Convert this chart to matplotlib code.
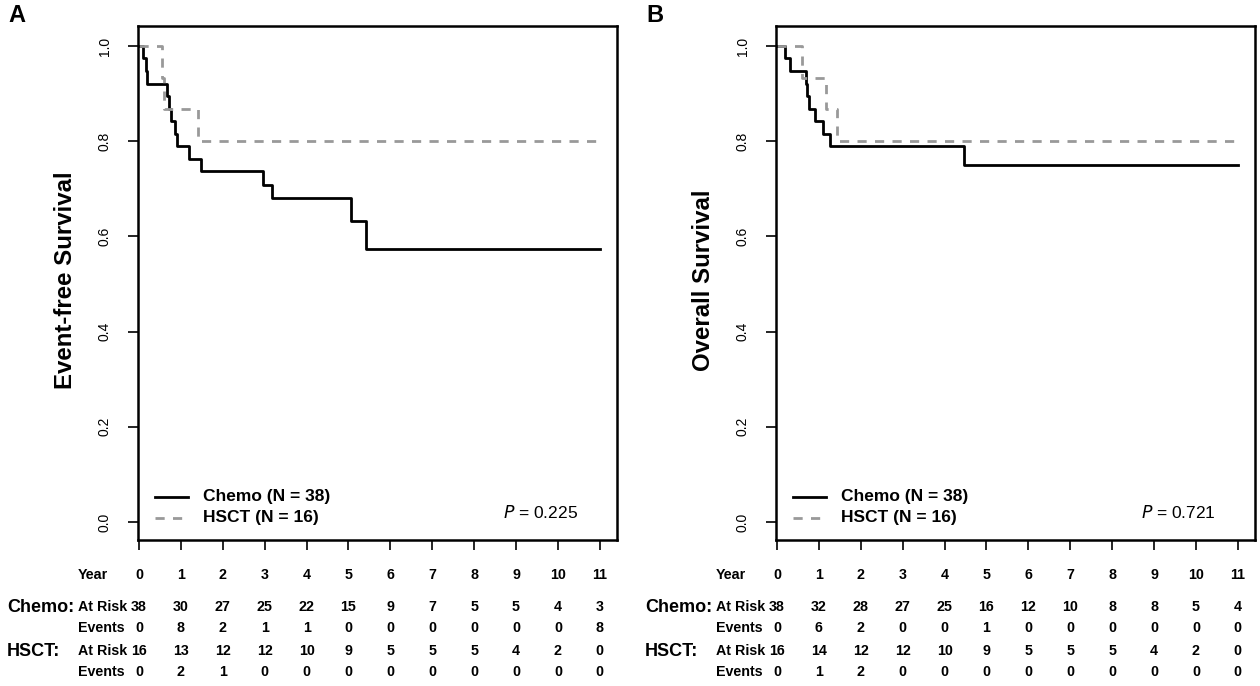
import matplotlib
matplotlib.use('Agg')
from matplotlib import pyplot as plt
from matplotlib import transforms

plt.rcParams['font.family'] = ['Liberation Sans', 'DejaVu Sans']

# ---- data ----
years = list(range(0, 12))

# event-free survival (panel A)
efs_chemo_t = [0, 0.10, 0.17, 0.20, 0.67, 0.71, 0.76, 0.86, 0.91, 1.20, 1.48, 2.97, 3.17, 5.06, 5.43, 11.0]
efs_chemo_s = [1.0, 0.974, 0.947, 0.921, 0.895, 0.868, 0.842, 0.816, 0.789, 0.763, 0.737, 0.708, 0.681, 0.632, 0.574, 0.574]
efs_hsct_t = [0, 0.55, 0.60, 1.42, 11.0]
efs_hsct_s = [1.0, 0.933, 0.867, 0.800, 0.800]

# overall survival (panel B)
os_chemo_t = [0, 0.19, 0.31, 0.69, 0.72, 0.77, 0.91, 1.10, 1.27, 4.47, 11.0]
os_chemo_s = [1.0, 0.974, 0.947, 0.921, 0.895, 0.868, 0.842, 0.816, 0.789, 0.750, 0.750]
os_hsct_t = [0, 0.60, 1.17, 1.44, 11.0]
os_hsct_s = [1.0, 0.933, 0.867, 0.800, 0.800]

# risk tables
efs_chemo_risk = [38, 30, 27, 25, 22, 15, 9, 7, 5, 5, 4, 3]
efs_chemo_events = [0, 8, 2, 1, 1, 0, 0, 0, 0, 0, 0, 8]
efs_hsct_risk = [16, 13, 12, 12, 10, 9, 5, 5, 5, 4, 2, 0]
efs_hsct_events = [0, 2, 1, 0, 0, 0, 0, 0, 0, 0, 0, 0]

os_chemo_risk = [38, 32, 28, 27, 25, 16, 12, 10, 8, 8, 5, 4]
os_chemo_events = [0, 6, 2, 0, 0, 1, 0, 0, 0, 0, 0, 0]
os_hsct_risk = [16, 14, 12, 12, 10, 9, 5, 5, 5, 4, 2, 0]
os_hsct_events = [0, 1, 2, 0, 0, 0, 0, 0, 0, 0, 0, 0]

yticks = [0.0, 0.2, 0.4, 0.6, 0.8, 1.0]

W, H = 1260, 686
fig = plt.figure(figsize=(W / 100, H / 100), dpi=100)


def fx(px):
    return px / W


def fy(py):
    return 1 - py / H


def panel(x0, letter, ylabel, chemo_t, chemo_s, hsct_t, hsct_s, pval, tables):
    ax = fig.add_axes([fx(x0), fy(540), fx(479), 514 / H])
    ax.step(chemo_t, chemo_s, where='post', color='black', lw=2.0)
    ax.step(hsct_t, hsct_s, where='post', color='#999999', lw=2.0, dashes=(3.3, 3))
    ax.set_xlim(-0.024, 11.41)
    ax.set_ylim(-0.038, 1.042)
    ax.set_xticks(years)
    ax.set_xticklabels([])
    ax.set_yticks(yticks)
    ax.set_yticklabels(['%.1f' % v for v in yticks], rotation=90, va='center', fontsize=10)
    ax.tick_params(direction='out', length=7, width=1.2, pad=12)
    for sp in ax.spines.values():
        sp.set_linewidth(1.8)

    # legend
    ax.plot([0.036, 0.104], [0.084, 0.084], transform=ax.transAxes, color='black', lw=2.0)
    ax.plot([0.036, 0.104], [0.043, 0.043], transform=ax.transAxes, color='#999999', lw=2.0, dashes=(3.3, 3))
    ax.text(0.136, 0.084, 'Chemo (N = 38)', transform=ax.transAxes, fontsize=12.5,
            fontweight='bold', va='center')
    ax.text(0.136, 0.043, 'HSCT (N = 16)', transform=ax.transAxes, fontsize=12.5,
            fontweight='bold', va='center')
    ax.text(0.762, 0.053, r'$\it{P}$ = ' + pval, transform=ax.transAxes, fontsize=12.5, va='center')

    fig.text(fx(x0 - 73), fy(280), ylabel, rotation=90, ha='center', va='center',
             fontsize=17.3, fontweight='bold')
    fig.text(fx(x0 - 130), fy(15), letter, ha='left', va='center', fontsize=17, fontweight='bold')

    # risk table
    tr = transforms.blended_transform_factory(ax.transData, fig.transFigure)
    rows = [('Year', years, 575)] + [(lab, vals, yy) for lab, vals, yy in tables]
    for lab, vals, yy in rows:
        fig.text(fx(x0 - 60), fy(yy), lab, ha='left', va='center', fontsize=10.3,
                 fontweight='bold')
        for yr, v in zip(years, vals):
            ax.text(yr, fy(yy), str(v), transform=tr, ha='center', va='center',
                    fontsize=10.3, fontweight='bold')
    fig.text(fx(x0 - 131), fy(607), 'Chemo:', ha='left', va='center', fontsize=13,
             fontweight='bold')
    fig.text(fx(x0 - 131), fy(651), 'HSCT:', ha='left', va='center', fontsize=13,
             fontweight='bold')
    return ax


panel(138, 'A', 'Event-free Survival', efs_chemo_t, efs_chemo_s, efs_hsct_t, efs_hsct_s, '0.225',
      [('At Risk', efs_chemo_risk, 607), ('Events', efs_chemo_events, 628),
       ('At Risk', efs_hsct_risk, 651), ('Events', efs_hsct_events, 672)])
panel(776, 'B', 'Overall Survival', os_chemo_t, os_chemo_s, os_hsct_t, os_hsct_s, '0.721',
      [('At Risk', os_chemo_risk, 607), ('Events', os_chemo_events, 628),
       ('At Risk', os_hsct_risk, 651), ('Events', os_hsct_events, 672)])

fig.savefig('out.png', dpi=100)
